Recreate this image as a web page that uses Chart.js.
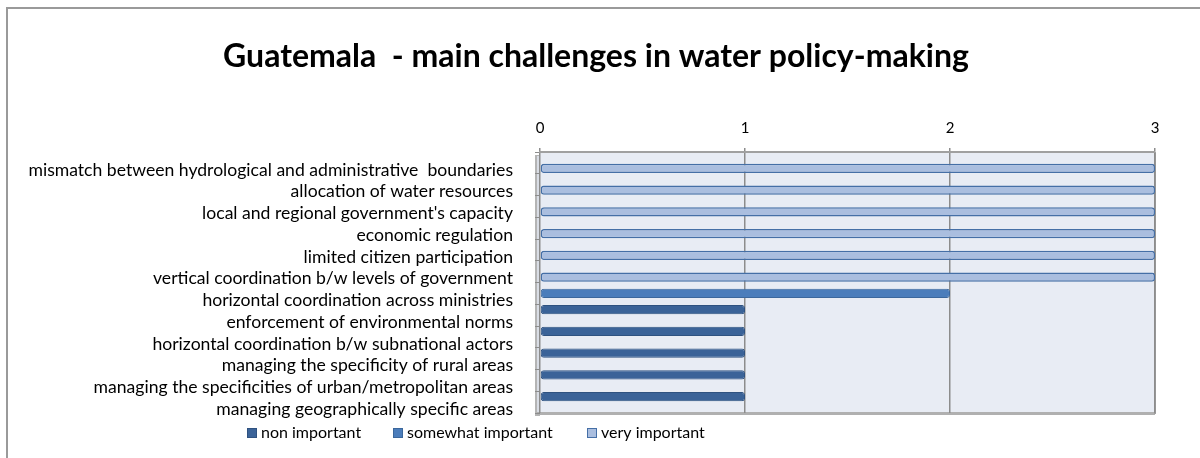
<!DOCTYPE html>
<html>
<head>
<meta charset="utf-8">
<script src="https://cdn.jsdelivr.net/npm/chart.js@4/dist/chart.umd.min.js"></script>
<style>
  html, body { margin: 0; padding: 0; background: #ffffff; }
  #wrap { position: relative; width: 1200px; height: 458px; }
</style>
</head>
<body>
<div id="wrap"><canvas id="c" width="1200" height="458"></canvas></div>
<script>
const titleText = "Guatemala  - main challenges in water policy-making";
const categories = [
  "mismatch between hydrological and administrative  boundaries",
  "allocation of water resources",
  "local and regional government's capacity",
  "economic regulation",
  "limited citizen participation",
  "vertical coordination b/w levels of government",
  "horizontal coordination across ministries",
  "enforcement of environmental norms",
  "horizontal coordination b/w subnational actors",
  "managing the specificity of rural areas",
  "managing the specificities of urban/metropolitan areas",
  "managing geographically specific areas"
];
const seriesNames = ["non important", "somewhat important", "very important"];
const nonImportant      = [null, null, null, null, null, null, null, 1, 1, 1, 1, 1];
const somewhatImportant = [null, null, null, null, null, null, 2, null, null, null, null, null];
const veryImportant     = [3, 3, 3, 3, 3, 3, null, null, null, null, null, null];
const xTicks = [0, 1, 2, 3];

const FONT = "Lato, 'Liberation Sans', sans-serif";

const bgPlugin = {
  id: 'bgPlugin',
  beforeDraw(chart) {
    const ctx = chart.ctx;
    const a = chart.chartArea;
    ctx.save();
    // outer frame
    ctx.strokeStyle = '#9a9a9a';
    ctx.lineWidth = 2;
    ctx.strokeRect(7, 8, 1300, 600);
    // plot back wall
    ctx.fillStyle = '#e8ecf4';
    ctx.fillRect(a.left, a.top, a.right - a.left, a.bottom - a.top);
    // left side wall
    ctx.fillStyle = '#b4b4b4';
    ctx.fillRect(a.left - 5, a.top + 3, 5, a.bottom - a.top);
    ctx.fillStyle = '#d9dde5';
    ctx.fillRect(a.left - 3, a.top + 4, 2, a.bottom - a.top - 2);
    // floor
    ctx.fillStyle = '#b0b0b0';
    ctx.fillRect(a.left - 3, a.bottom - 1, a.right - a.left + 3, 3);
    // right edge
    ctx.fillStyle = '#a0a0a0';
    ctx.fillRect(a.right - 1, a.top, 2, a.bottom - a.top + 1);
    ctx.restore();
  },
  afterDraw(chart) {
    const ctx = chart.ctx;
    ctx.save();
    // title
    ctx.font = "bold 32px " + FONT;
    ctx.textBaseline = 'middle';
    ctx.textAlign = 'center';
    ctx.fillStyle = '#000';
    ctx.fillText(titleText, 596, 57);
    // legend
    ctx.font = "16px " + FONT;
    ctx.textAlign = 'left';
    const xs = [247, 393, 587];
    const y = 433;
    chart.data.datasets.forEach((ds, i) => {
      ctx.fillStyle = ds.backgroundColor;
      ctx.fillRect(xs[i], y - 5, 10, 10);
      ctx.strokeStyle = ds.borderColor;
      ctx.lineWidth = 1;
      ctx.strokeRect(xs[i] + 0.5, y - 4.5, 9, 9);
      ctx.fillStyle = '#000';
      ctx.fillText(ds.label, xs[i] + 14, y);
    });
    ctx.restore();
  }
};

new Chart(document.getElementById('c'), {
  type: 'bar',
  data: {
    labels: categories,
    datasets: [
      { label: seriesNames[0], data: nonImportant, backgroundColor: '#3b6398', borderColor: '#2f5280', borderWidth: 1 },
      { label: seriesNames[1], data: somewhatImportant, backgroundColor: '#4b7dbb', borderColor: '#3b679c', borderWidth: 1 },
      { label: seriesNames[2], data: veryImportant, backgroundColor: '#aabedf', borderColor: '#456fa6', borderWidth: 1.5 }
    ]
  },
  options: {
    indexAxis: 'y',
    responsive: false,
    animation: false,
    layout: { padding: { left: 0, right: 45, top: 0, bottom: 45 } },
    datasets: {
      bar: { categoryPercentage: 0.77, barPercentage: 1.65, borderRadius: 3, borderSkipped: false, grouped: true }
    },
    plugins: {
      legend: { display: false },
      tooltip: { enabled: false },
      title: { display: false }
    },
    scales: {
      x: {
        position: 'top',
        min: 0, max: 3,
        afterBuildTicks(scale) { scale.ticks = xTicks.map(v => ({ value: v })); },
        afterFit(scale) { scale.height = 152; },
        ticks: { color: '#000', font: { family: FONT, size: 15 }, padding: 11 },
        grid: { color: '#8c8c8c', lineWidth: 1.5, drawTicks: true, tickLength: 4 },
        border: { display: true, color: '#a0a0a0', width: 2 }
      },
      y: {
        afterFit(scale) { scale.width = 540; },
        ticks: { color: '#000', font: { family: FONT, size: 17.6 }, padding: 22, labelOffset: 7, autoSkip: false },
        grid: { display: true, drawOnChartArea: false, drawTicks: true, tickLength: 5, color: '#8c8c8c' },
        border: { display: false }
      }
    }
  },
  plugins: [bgPlugin]
});
</script>
</body>
</html>
